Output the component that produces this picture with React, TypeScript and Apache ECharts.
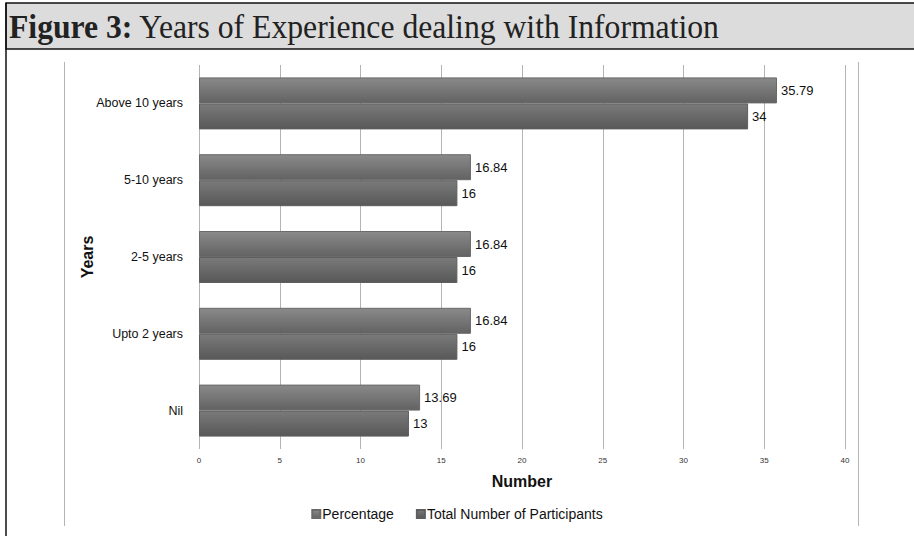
import React, { useEffect, useRef } from "react";
import * as echarts from "echarts";

const categories = ["Above 10 years", "5-10 years", "2-5 years", "Upto 2 years", "Nil"];
const percentage = [35.79, 16.84, 16.84, 16.84, 13.69];
const participants = [34, 16, 16, 16, 13];
const seriesNames = ["Percentage", "Total Number of Participants"];
const xTicks = { min: 0, max: 40, interval: 5 };

const barFill = (top: string, bottom: string) =>
  new echarts.graphic.LinearGradient(0, 0, 0, 1, [
    { offset: 0, color: top },
    { offset: 1, color: bottom },
  ]);

export default function App() {
  const ref = useRef<HTMLDivElement>(null);

  useEffect(() => {
    if (!ref.current) return;
    const chart = echarts.init(ref.current, null, { renderer: "svg" });
    const labelStyle = {
      show: true,
      position: "right" as const,
      distance: 4,
      color: "#111",
      fontFamily: "Liberation Sans, Arial, sans-serif",
      fontSize: 13,
    };
    chart.setOption({
      animation: false,
      backgroundColor: "#ffffff",
      textStyle: { fontFamily: "Liberation Sans, Arial, sans-serif" },
      grid: { left: 199, right: 69, top: 65, bottom: 87, containLabel: false },
      legend: {
        bottom: 10,
        left: "center",
        itemWidth: 8,
        itemHeight: 8,
        itemGap: 22,
        icon: "rect",
        textStyle: { fontSize: 14, color: "#111", padding: [0, 0, 0, -3] },
        data: seriesNames,
      },
      xAxis: {
        type: "value",
        min: xTicks.min,
        max: xTicks.max,
        interval: xTicks.interval,
        name: "Number",
        nameLocation: "middle",
        nameGap: 24,
        nameMoveOverlap: false,
        nameTextStyle: { fontSize: 16, fontWeight: "bold", color: "#111" },
        axisLine: { show: false },
        axisTick: { show: false },
        axisLabel: { fontSize: 8, color: "#333", margin: 7 },
        splitLine: { lineStyle: { color: "#b4b4b4", width: 1 } },
      },
      yAxis: {
        type: "category",
        data: categories,
        inverse: true,
        name: "Years",
        nameLocation: "middle",
        nameGap: 104,
        nameMoveOverlap: false,
        nameRotate: 90,
        nameTextStyle: { fontSize: 16, fontWeight: "bold", color: "#111" },
        axisLine: { show: false },
        axisTick: { show: false },
        axisLabel: { fontSize: 12.5, color: "#111", margin: 16 },
      },
      series: [
        {
          name: seriesNames[0],
          type: "bar",
          data: percentage,
          barWidth: 26,
          barGap: "0%",
          itemStyle: {
            color: barFill("#8a8a8a", "#626262"),
            borderColor: "#6a6a6a",
            borderWidth: 1,
          },
          label: labelStyle,
        },
        {
          name: seriesNames[1],
          type: "bar",
          data: participants,
          barWidth: 26,
          barGap: "0%",
          itemStyle: {
            color: barFill("#7a7a7a", "#585858"),
            borderColor: "#5e5e5e",
            borderWidth: 1,
          },
          label: labelStyle,
        },
      ],
      graphic: [
        {
          type: "rect",
          z: 10,
          shape: { x: 6, y: 3, width: 930, height: 46 },
          style: { fill: "#dcdcdc", stroke: "#111", lineWidth: 1.5 },
        },
        {
          type: "text",
          z: 11,
          x: 9,
          y: 10,
          scaleX: 0.96,
          style: {
            text: "{b|Figure 3:} Years of Experience dealing with Information",
            fontFamily: "Liberation Serif, DejaVu Serif, serif",
            fontSize: 33,
            fill: "#222",
            rich: {
              b: {
                fontFamily: "Liberation Serif, DejaVu Serif, serif",
                fontSize: 33,
                fontWeight: "bold",
                fill: "#222",
              },
            },
          },
        },
        {
          type: "line",
          z: 10,
          shape: { x1: 6, y1: 3, x2: 6, y2: 536 },
          style: { stroke: "#111", lineWidth: 1.5 },
        },
        {
          type: "line",
          shape: { x1: 64.5, y1: 62, x2: 64.5, y2: 526 },
          style: { stroke: "#b4b4b4", lineWidth: 1 },
        },
        {
          type: "line",
          shape: { x1: 858.5, y1: 62, x2: 858.5, y2: 526 },
          style: { stroke: "#b4b4b4", lineWidth: 1 },
        },
      ],
    });
    return () => chart.dispose();
  }, []);

  return (
    <div
      ref={ref}
      style={{ position: "fixed", left: 0, top: 0, width: 914, height: 536 }}
    />
  );
}
